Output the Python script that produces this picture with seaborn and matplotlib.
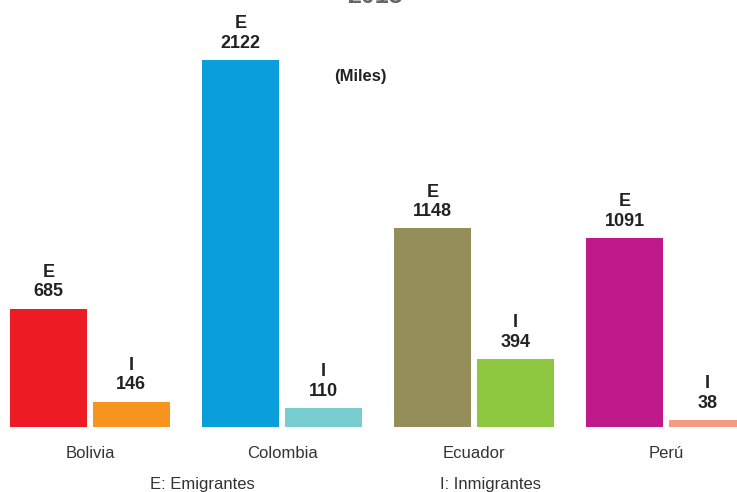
import pandas as pd
import numpy as np
import seaborn as sns
import matplotlib.pyplot as plt

paises = ['Bolivia', 'Colombia', 'Ecuador', 'Perú']
emigrantes = [685, 2122, 1148, 1091]
inmigrantes = [146, 110, 394, 38]
colores_e = ['#ED1C24', '#0A9FDB', '#948F5A', '#BE1A8C']
colores_i = ['#F7941D', '#78CDD0', '#8DC63F', '#F59C80']

df = pd.DataFrame({
    'pais': paises * 2,
    'valor': emigrantes + inmigrantes,
    'tipo': ['E'] * len(paises) + ['I'] * len(paises),
})

sns.set_style('white')
plt.rcParams['font.family'] = ['Liberation Sans', 'DejaVu Sans']

fig = plt.figure(figsize=(7.37, 4.92), dpi=100)
ax = fig.add_axes([0, 65 / 492, 1, 427 / 492])

sns.barplot(data=df, x='pais', y='valor', hue='tipo', width=0.86, gap=0.067,
            saturation=1, legend=False, ax=ax)

# colores por barra
for cont, cols, letra in zip(ax.containers, [colores_e, colores_i], ['E', 'I']):
    for bar, c in zip(cont, cols):
        bar.set_facecolor(c)
        bar.set_edgecolor('none')
    ax.bar_label(cont, labels=[f'{letra}\n{int(v)}' for v in cont.datavalues],
                 padding=6, fontsize=13, fontweight='bold', color='#222222',
                 linespacing=1.2)

ax.set_xlim(-90 / 192, (737 - 90) / 192)
ax.set_ylim(0, 427 / (367 / 2122))
ax.set_xlabel('')
ax.set_ylabel('')
ax.set_yticks([])
ax.tick_params(axis='x', length=0, pad=14, labelsize=12, labelcolor='#333333')
sns.despine(ax=ax, left=True, bottom=True)

ax.text(360 / 737, 1 - 76 / 427, '(Miles)', transform=ax.transAxes,
        ha='center', va='center', fontsize=12, fontweight='bold', color='#222222')

fig.text(375 / 737, 1 - 3 / 492, '2013', ha='center', va='baseline',
         fontsize=18, fontweight='bold', color='#666666')
fig.text(202 / 737, 8 / 492, 'E: Emigrantes', ha='center', va='center',
         fontsize=12, color='#333333')
fig.text(490 / 737, 8 / 492, 'I: Inmigrantes', ha='center', va='center',
         fontsize=12, color='#333333')

fig.savefig('out.png', dpi=100)
